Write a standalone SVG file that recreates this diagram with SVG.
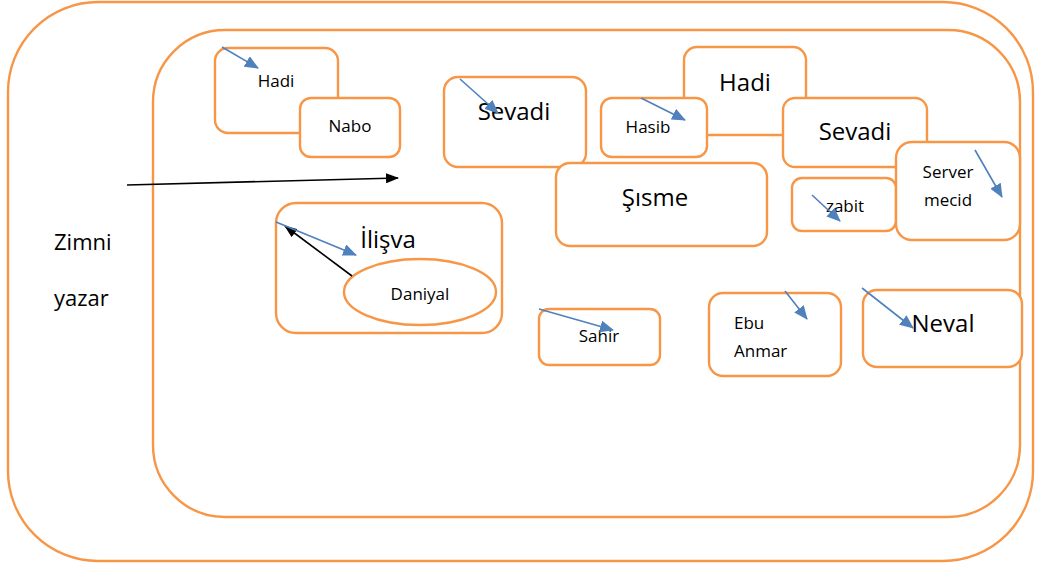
<svg xmlns="http://www.w3.org/2000/svg" width="1037" height="565" viewBox="0 0 1037 565">
<defs>
<style>
.box{fill:#fff;stroke:#F79646;stroke-width:2.4}
.frame{fill:none;stroke:#F79646;stroke-width:2.4}
.t{font-family:"Open Sans","Noto Sans",sans-serif;fill:#000}
.s{font-size:17px}
.l{font-size:24px}
.blue{stroke:#4F81BD;stroke-width:1.6;fill:none}
.blk{stroke:#000;stroke-width:1.6;fill:none}
</style>
<marker id="ab" markerWidth="14" markerHeight="12" refX="13" refY="6" orient="auto" markerUnits="userSpaceOnUse" viewBox="0 0 14 12">
<path d="M0,0 L14,6 L0,12 Z" fill="#4F81BD"/>
</marker>
<marker id="ak" markerWidth="13" markerHeight="10" refX="12" refY="5" orient="auto" markerUnits="userSpaceOnUse" viewBox="0 0 13 10">
<path d="M0,0 L13,5 L0,10 Z" fill="#000"/>
</marker>
</defs>
<g id="outer"><rect class="frame" x="8" y="2" width="1025" height="559" rx="90" ry="90"/></g>
<g id="inner"><rect class="frame" x="153" y="30" width="867" height="487" rx="72" ry="72"/></g>
<g id="zimni"><text class="t" x="54" y="250" font-size="22">Zimni</text><text class="t" x="54" y="306" font-size="22">yazar</text></g>
<g id="hadi1"><rect class="box" x="215" y="48" width="123" height="85" rx="13"/><text class="t s" x="276" y="87" text-anchor="middle">Hadi</text></g>
<g id="nabo"><rect class="box" x="300" y="98" width="100" height="59" rx="11"/><text class="t s" x="350" y="132" text-anchor="middle">Nabo</text></g>
<g id="sevadi1"><rect class="box" x="444" y="77" width="142" height="90" rx="14"/><text class="t l" x="514" y="120" text-anchor="middle">Sevadi</text></g>
<g id="hadi2"><rect class="box" x="684" y="47" width="122" height="88" rx="13"/><text class="t l" x="745" y="91" text-anchor="middle">Hadi</text></g>
<g id="hasib"><rect class="box" x="601" y="98" width="106" height="59" rx="11"/><text class="t s" x="648" y="133" text-anchor="middle">Hasib</text></g>
<g id="sevadi2"><rect class="box" x="783" y="98" width="144" height="69" rx="12"/><text class="t l" x="855" y="140" text-anchor="middle">Sevadi</text></g>
<g id="sisme"><rect class="box" x="556" y="163" width="211" height="83" rx="14"/><text class="t l" x="655" y="206" text-anchor="middle">Şısme</text></g>
<g id="zabit"><rect class="box" x="792" y="178" width="104" height="53" rx="10"/><text class="t s" x="845" y="212" text-anchor="middle">zabit</text></g>
<g id="server"><rect class="box" x="896" y="142" width="124" height="98" rx="16"/><text class="t s" x="948" y="178" text-anchor="middle">Server</text><text class="t s" x="948" y="206" text-anchor="middle">mecid</text></g>
<g id="ilisva"><rect class="box" x="276" y="203" width="226" height="130" rx="20"/><text class="t l" x="388" y="248" text-anchor="middle">İlişva</text></g>
<g id="daniyal"><ellipse class="box" cx="420" cy="292" rx="76" ry="33"/><text class="t s" x="420" y="300" text-anchor="middle">Daniyal</text></g>
<g id="sahir"><rect class="box" x="539" y="309" width="121" height="56" rx="10"/><text class="t s" x="599" y="342" text-anchor="middle">Sahir</text></g>
<g id="ebu"><rect class="box" x="709" y="293" width="132" height="83" rx="14"/><text class="t s" x="734" y="329">Ebu</text><text class="t s" x="734" y="357">Anmar</text></g>
<g id="neval"><rect class="box" x="863" y="290" width="159" height="77" rx="14"/><text class="t l" x="943" y="332" text-anchor="middle">Neval</text></g>
<g id="connectors">
<line class="blk" x1="127" y1="185" x2="398" y2="178" marker-end="url(#ak)"/>
<line class="blk" x1="352" y1="276" x2="285" y2="226" marker-end="url(#ak)"/>
<line class="blue" x1="222" y1="47" x2="258" y2="68" marker-end="url(#ab)"/>
<line class="blue" x1="460" y1="79" x2="498" y2="113" marker-end="url(#ab)"/>
<line class="blue" x1="641" y1="98" x2="685" y2="120" marker-end="url(#ab)"/>
<line class="blue" x1="975" y1="150" x2="1002" y2="197" marker-end="url(#ab)"/>
<line class="blue" x1="812" y1="195" x2="840" y2="221" marker-end="url(#ab)"/>
<line class="blue" x1="276" y1="222" x2="356" y2="255" marker-end="url(#ab)"/>
<line class="blue" x1="539" y1="309" x2="613" y2="330" marker-end="url(#ab)"/>
<line class="blue" x1="785" y1="291" x2="807" y2="319" marker-end="url(#ab)"/>
<line class="blue" x1="862" y1="288" x2="913" y2="328" marker-end="url(#ab)"/>
</g>
</svg>
